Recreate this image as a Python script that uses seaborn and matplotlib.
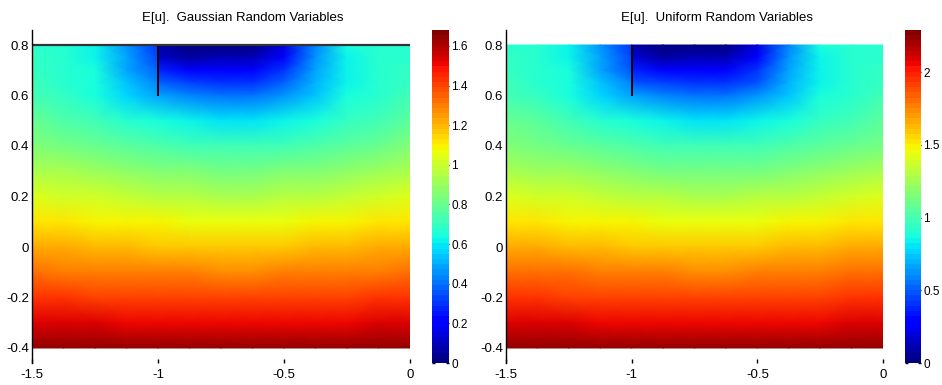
import numpy as np
import matplotlib
matplotlib.use("Agg")
import matplotlib.pyplot as plt
import seaborn as sns

# ---------------- data ----------------
# x = -1.0 appears twice: the left and right faces of the slit at the top (0.6 <= y <= 0.8)
x_nodes = [-1.5, -1.375, -1.25, -1.125, -1.0, -1.0, -0.875, -0.75, -0.625, -0.5, -0.375, -0.25, -0.125, 0.0]
y_nodes = [0.8, 0.75, 0.7, 0.65, 0.6, 0.5, 0.4, 0.3, 0.2, 0.1, 0.0, -0.1, -0.2, -0.3, -0.4]

gauss_rows = [
    [0.68, 0.66, 0.61, 0.46, 0.29, 0.07, 0.02, 0.01, 0.02, 0.14, 0.44, 0.63, 0.66, 0.68],
    [0.69, 0.66, 0.62, 0.48, 0.33, 0.13, 0.07, 0.08, 0.10, 0.23, 0.46, 0.62, 0.66, 0.68],
    [0.70, 0.67, 0.63, 0.49, 0.37, 0.27, 0.20, 0.19, 0.20, 0.31, 0.48, 0.62, 0.67, 0.69],
    [0.71, 0.68, 0.64, 0.53, 0.44, 0.37, 0.33, 0.31, 0.31, 0.37, 0.50, 0.62, 0.67, 0.70],
    [0.73, 0.69, 0.65, 0.56, 0.48, 0.48, 0.43, 0.41, 0.41, 0.45, 0.54, 0.63, 0.68, 0.71],
    [0.79, 0.76, 0.71, 0.67, 0.63, 0.63, 0.61, 0.60, 0.60, 0.62, 0.65, 0.69, 0.73, 0.77],
    [0.85, 0.83, 0.80, 0.77, 0.74, 0.74, 0.72, 0.71, 0.71, 0.72, 0.75, 0.78, 0.81, 0.84],
    [0.94, 0.92, 0.90, 0.87, 0.85, 0.85, 0.84, 0.83, 0.83, 0.84, 0.86, 0.88, 0.91, 0.93],
    [1.03, 1.02, 1.00, 0.98, 0.96, 0.96, 0.95, 0.94, 0.94, 0.95, 0.97, 0.99, 1.01, 1.03],
    [1.12, 1.11, 1.10, 1.09, 1.08, 1.08, 1.07, 1.06, 1.06, 1.07, 1.08, 1.09, 1.11, 1.12],
    [1.22, 1.21, 1.20, 1.19, 1.18, 1.18, 1.17, 1.17, 1.17, 1.18, 1.19, 1.20, 1.21, 1.22],
    [1.32, 1.31, 1.31, 1.30, 1.29, 1.29, 1.29, 1.28, 1.28, 1.29, 1.29, 1.30, 1.31, 1.32],
    [1.42, 1.42, 1.41, 1.41, 1.40, 1.40, 1.40, 1.40, 1.40, 1.40, 1.40, 1.41, 1.42, 1.42],
    [1.53, 1.53, 1.53, 1.52, 1.52, 1.52, 1.52, 1.52, 1.52, 1.52, 1.52, 1.52, 1.53, 1.53],
    [1.65, 1.65, 1.65, 1.65, 1.65, 1.65, 1.65, 1.65, 1.65, 1.65, 1.65, 1.65, 1.65, 1.65],
]

uniform_rows = [
    [0.93, 0.90, 0.83, 0.63, 0.40, 0.10, 0.03, 0.01, 0.03, 0.19, 0.60, 0.86, 0.90, 0.93],
    [0.94, 0.90, 0.85, 0.65, 0.45, 0.18, 0.10, 0.11, 0.14, 0.31, 0.63, 0.85, 0.90, 0.93],
    [0.95, 0.91, 0.86, 0.67, 0.50, 0.37, 0.27, 0.26, 0.27, 0.42, 0.65, 0.85, 0.91, 0.94],
    [0.97, 0.93, 0.87, 0.72, 0.60, 0.50, 0.45, 0.42, 0.42, 0.50, 0.68, 0.85, 0.91, 0.95],
    [0.99, 0.94, 0.89, 0.76, 0.65, 0.65, 0.59, 0.56, 0.56, 0.61, 0.74, 0.86, 0.93, 0.97],
    [1.08, 1.04, 0.97, 0.91, 0.86, 0.86, 0.83, 0.82, 0.82, 0.85, 0.89, 0.94, 0.99, 1.05],
    [1.16, 1.13, 1.09, 1.05, 1.01, 1.01, 0.98, 0.97, 0.97, 0.98, 1.02, 1.06, 1.10, 1.14],
    [1.28, 1.25, 1.23, 1.19, 1.16, 1.16, 1.14, 1.13, 1.13, 1.14, 1.17, 1.20, 1.24, 1.27],
    [1.40, 1.39, 1.36, 1.34, 1.31, 1.31, 1.29, 1.28, 1.28, 1.29, 1.32, 1.35, 1.38, 1.40],
    [1.53, 1.51, 1.50, 1.49, 1.47, 1.47, 1.46, 1.44, 1.44, 1.46, 1.47, 1.49, 1.51, 1.53],
    [1.66, 1.65, 1.64, 1.62, 1.61, 1.61, 1.59, 1.59, 1.59, 1.61, 1.62, 1.64, 1.65, 1.66],
    [1.80, 1.79, 1.79, 1.77, 1.76, 1.76, 1.76, 1.74, 1.74, 1.76, 1.76, 1.77, 1.79, 1.80],
    [1.94, 1.94, 1.92, 1.92, 1.91, 1.91, 1.91, 1.91, 1.91, 1.91, 1.91, 1.92, 1.94, 1.94],
    [2.08, 2.08, 2.08, 2.07, 2.07, 2.07, 2.07, 2.07, 2.07, 2.07, 2.07, 2.07, 2.08, 2.08],
    [2.24, 2.24, 2.24, 2.24, 2.24, 2.24, 2.24, 2.24, 2.24, 2.24, 2.24, 2.24, 2.24, 2.24],
]

titles = ["E[u].  Gaussian Random Variables", "E[u].  Uniform Random Variables"]
color_max = [1.68, 2.29]

x_ticks = [-1.5, -1.0, -0.5, 0.0]
x_tick_labels = ["-1.5", "-1", "-0.5", "0"]
y_ticks = [0.8, 0.6, 0.4, 0.2, 0.0, -0.2, -0.4]
y_tick_labels = ["0.8", "0.6", "0.4", "0.2", "0", "-0.2", "-0.4"]

cbar_ticks = [[0, 0.2, 0.4, 0.6, 0.8, 1.0, 1.2, 1.4, 1.6], [0, 0.5, 1.0, 1.5, 2.0]]
cbar_labels = [["0", "0.2", "0.4", "0.6", "0.8", "1", "1.2", "1.4", "1.6"],
               ["0", "0.5", "1", "1.5", "2"]]

crack_x = [-1.0, -1.0]
crack_y = [0.6, 0.8]
top_edge_x = [-1.5, 0.0]
top_edge_y = [0.8, 0.8]

# ---------------- style ----------------
sns.set_style("white")
plt.rcParams["font.family"] = ["Liberation Sans", "DejaVu Sans"]
plt.rcParams["axes.unicode_minus"] = False
plt.rcParams["text.color"] = "black"
plt.rcParams["xtick.color"] = "black"
plt.rcParams["ytick.color"] = "black"
plt.rcParams["xtick.labelcolor"] = "black"
plt.rcParams["ytick.labelcolor"] = "black"

W, H = 942, 385
fig = plt.figure(figsize=(W / 100, H / 100), dpi=100)


def px_axes(x0, x1, y0, y1):
    return fig.add_axes([x0 / W, 1 - y1 / H, (x1 - x0) / W, (y1 - y0) / H])


cmap = plt.get_cmap("jet", 64)
ppu = 252.5  # pixels per data unit (equal aspect)
tick_fs = 9.5
cbar_fs = 8.5

panels = [
    dict(ax=(32, 410, 30, 363), cax=(432, 449, 30, 363), title_x=243),
    dict(ax=(506, 883, 30, 363), cax=(905, 921, 30, 363), title_x=717),
]
fields = [gauss_rows, uniform_rows]

X, Y = np.meshgrid(np.array(x_nodes), np.array(y_nodes))

for i, p in enumerate(panels):
    ax = px_axes(*p["ax"])
    Z = np.array(fields[i])
    mesh = ax.pcolormesh(X, Y, Z, shading="gouraud", cmap=cmap,
                         vmin=0, vmax=color_max[i], rasterized=True)
    ax.set_xlim(-1.5, 0.0)
    ax.set_ylim(-0.4 - 15 / ppu, 0.8 + 15 / ppu)
    for s in ["top", "right", "bottom"]:
        ax.spines[s].set_visible(False)
    ax.spines["left"].set_color("black")
    ax.spines["left"].set_linewidth(1.0)
    ax.set_xticks(x_ticks)
    ax.set_xticklabels(x_tick_labels)
    ax.set_yticks(y_ticks)
    ax.set_yticklabels(y_tick_labels)
    ax.tick_params(axis="x", direction="in", length=3, width=1, color="black",
                   labelsize=tick_fs, pad=4, bottom=True, labelcolor="black")
    ax.tick_params(axis="y", length=0, labelsize=tick_fs, pad=2, left=True,
                   labelcolor="black")
    ax.plot(crack_x, crack_y, color="black", lw=1.4, solid_capstyle="butt")
    if i == 0:
        ax.plot(top_edge_x, top_edge_y, color="#333333", lw=1.6, solid_capstyle="butt")
    ax.grid(False)

    cax = px_axes(*p["cax"])
    cb = fig.colorbar(mesh, cax=cax)
    cb.outline.set_visible(False)
    cb.set_ticks(cbar_ticks[i])
    cb.set_ticklabels(cbar_labels[i])
    cax.tick_params(axis="y", direction="in", length=2.5, width=1, color="black",
                    left=True, right=True, labelsize=cbar_fs, pad=1.5, labelcolor="black")

    fig.text(p["title_x"] / W, 1 - 21 / H, titles[i], ha="center", va="baseline",
             fontsize=9.5, color="black")

fig.savefig("out.png", dpi=100)
